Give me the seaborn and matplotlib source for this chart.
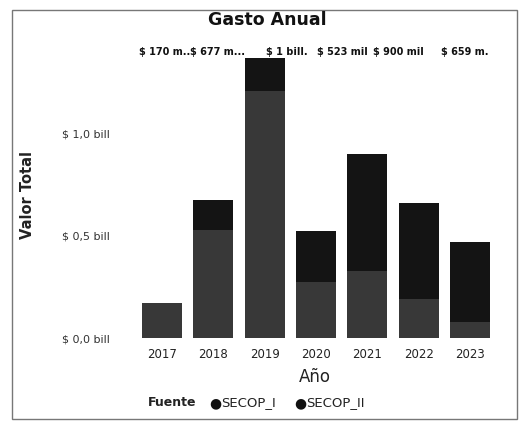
import numpy as np
import pandas as pd
import matplotlib
matplotlib.use("Agg")
import matplotlib.pyplot as plt
from matplotlib.patches import Rectangle
from matplotlib.ticker import FixedLocator
import seaborn as sns

# Data (values in billions)
years = ["2017", "2018", "2019", "2020", "2021", "2022", "2023"]
secop_i = [0.17, 0.53, 1.21, 0.275, 0.33, 0.19, 0.08]
secop_ii = [0.0, 0.147, 0.16, 0.248, 0.57, 0.469, 0.39]
total_labels = ["$ 170 m..", "$ 677 m...", "$ 1 bill.", "$ 523 mil",
                "$ 900 mil", "$ 659 m."]
y_ticks = [0.0, 0.5, 1.0]
y_tick_labels = ["$ 0,0 bill", "$ 0,5 bill", "$ 1,0 bill"]

color_i = "#383838"
color_ii = "#141414"

# the truncated total labels drift right of their bars in the original
label_shift = [0.06, 0.09, 0.43, 0.52, 0.61, 0.9]

df = pd.DataFrame({
    "Año": years,
    "SECOP_I": secop_i,
    "Total": np.array(secop_i) + np.array(secop_ii),
})

sns.set_style("white")
plt.rcParams["font.family"] = ["DejaVu Sans"]

fig = plt.figure(figsize=(5.23, 4.24), dpi=100)
ax = fig.add_axes([136 / 523, 1 - 338 / 424, 360 / 523, 286 / 424])

# stacked bars: total first (SECOP_II colour), SECOP_I drawn over it
sns.barplot(data=df, x="Año", y="Total", color=color_ii, width=0.78,
            saturation=1, linewidth=0, ax=ax)
sns.barplot(data=df, x="Año", y="SECOP_I", color=color_i, width=0.78,
            saturation=1, linewidth=0, ax=ax)

ax.set_ylim(0, 1.4)
ax.yaxis.set_major_locator(FixedLocator(y_ticks))
ax.set_yticklabels(y_tick_labels, fontsize=8, color="#333333")
ax.tick_params(axis="y", length=0, pad=19)
ax.tick_params(axis="x", length=0, labelsize=8.5, colors="#222222", pad=7)
ax.set_xlabel("Año", fontsize=12, color="#222222", va="center")
ax.xaxis.set_label_coords(0.497, -0.136)
ax.set_ylabel("Valor Total", fontsize=10.5, color="#222222",
              fontweight="bold", va="center")
ax.yaxis.set_label_coords(-0.3, 0.5)
for s in ax.spines.values():
    s.set_visible(False)

# truncated total labels in a row above the plot
for i, lab in enumerate(total_labels):
    ax.text(i + label_shift[i], 1.40, lab, ha="center", va="center",
            fontsize=7, color="#111111", fontweight="bold", clip_on=False)

fig.text(267 / 523, 1 - 20 / 424, "Gasto Anual", ha="center", va="center",
         fontsize=12.5, fontweight="bold", color="#111111")

# legend row
ly = 1 - 403 / 424
fig.text(148 / 523, ly, "Fuente", ha="left", va="center",
         fontsize=9, fontweight="bold", color="#222222")
fig.text(215 / 523, ly, "●", ha="center", va="center",
         fontsize=10, color="#111111")
fig.text(221 / 523, ly, "SECOP_I", ha="left", va="center",
         fontsize=9.5, color="#222222")
fig.text(300 / 523, ly, "●", ha="center", va="center",
         fontsize=10, color="#111111")
fig.text(306 / 523, ly, "SECOP_II", ha="left", va="center",
         fontsize=9.5, color="#222222")

# outer frame of the visual
fig.patches.append(Rectangle((12 / 523, 1 - 419 / 424), 505 / 523, 409 / 424,
                             transform=fig.transFigure, fill=False,
                             edgecolor="#777777", linewidth=1))

fig.savefig("out.png", dpi=100)
